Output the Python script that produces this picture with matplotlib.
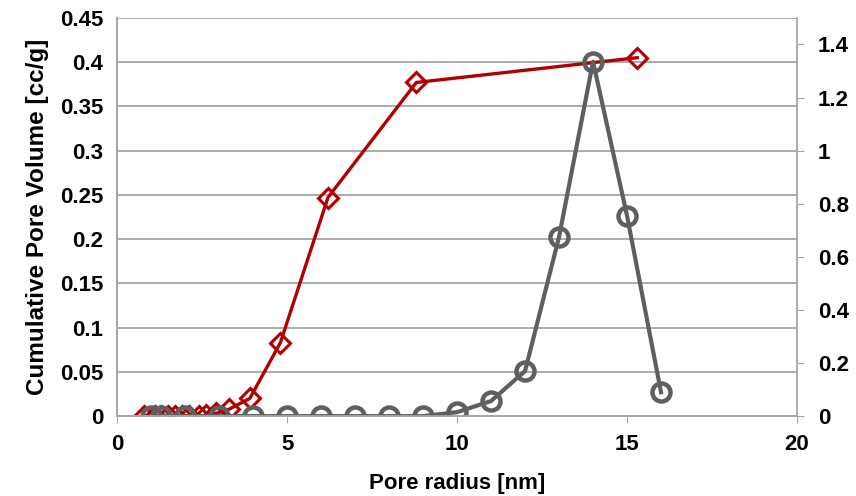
import numpy as np
from matplotlib import pyplot as plt

plt.rcParams['font.family'] = ['Liberation Sans', 'DejaVu Sans']
plt.rcParams['font.weight'] = 'bold'

# cumulative pore volume (left axis)
r_cum = [0.8, 1.1, 1.3, 1.5, 1.7, 1.9, 2.1, 2.4, 2.6, 2.9, 3.3, 3.9, 4.8, 6.2, 8.8, 15.3]
v_cum = [0.0, 0.0, 0.0, 0.0, 0.0, 0.0, 0.0, 0.0, 0.001, 0.003, 0.008, 0.02, 0.083, 0.247, 0.377, 0.405]

# pore size distribution (right axis)
r_psd = [1, 1.3, 2, 3, 4, 5, 6, 7, 8, 9, 10, 11, 12, 13, 14, 15, 16]
v_psd = [0, 0, 0, 0, 0, 0, 0, 0, 0, 0, 0.015, 0.057, 0.17, 0.675, 1.335, 0.755, 0.09]

red = '#B00000'
gray = '#5f5f5f'
axcol = '#a6a6a6'

fig, ax = plt.subplots(figsize=(8.56, 4.96), dpi=100)
fig.subplots_adjust(left=0.137, right=0.931, top=0.964, bottom=0.161)

ax.plot(r_cum, v_cum, color=red, lw=2.4, marker='D', ms=10, mfc='none', mec=red, mew=2.2)
ax.set_xlim(0, 20)
ax.set_ylim(0, 0.45)
ax.set_xticks([0, 5, 10, 15, 20])
ax.set_yticks(np.arange(0, 0.451, 0.05))
ax.set_yticklabels(['0', '0.05', '0.1', '0.15', '0.2', '0.25', '0.3', '0.35', '0.4', '0.45'])
ax.grid(axis='y', color=axcol, lw=1.3)
ax.set_axisbelow(True)
ax.set_xlabel('Pore radius [nm]', fontsize=16, fontweight='bold', labelpad=13)
ax.set_ylabel('Cumulative Pore Volume [cc/g]', fontsize=17.5, fontweight='bold', labelpad=8)
ax.tick_params(axis='both', labelsize=16, colors=axcol, labelcolor='black')
ax.tick_params(axis='y', length=0, pad=10)
ax.tick_params(axis='x', length=5, pad=8)

ax2 = ax.twinx()
ax2.plot(r_psd, v_psd, color=gray, lw=3, marker='o', ms=13, mfc='none', mec=gray, mew=3.2)
ax2.set_ylim(0, 1.4 * 0.45 / 0.42)
ax2.set_yticks([0, 0.2, 0.4, 0.6, 0.8, 1.0, 1.2, 1.4])
ax2.set_yticklabels(['0', '0.2', '0.4', '0.6', '0.8', '1', '1.2', '1.4'])
ax2.tick_params(axis='y', labelsize=16, colors=axcol, labelcolor='black', length=5, pad=10)

for a in (ax, ax2):
    a.spines['top'].set_visible(False)
    for s in ('left', 'right', 'bottom'):
        a.spines[s].set_color(axcol)
        a.spines[s].set_linewidth(1.3)
ax.spines['right'].set_visible(False)

plt.savefig('out.png', dpi=100)
